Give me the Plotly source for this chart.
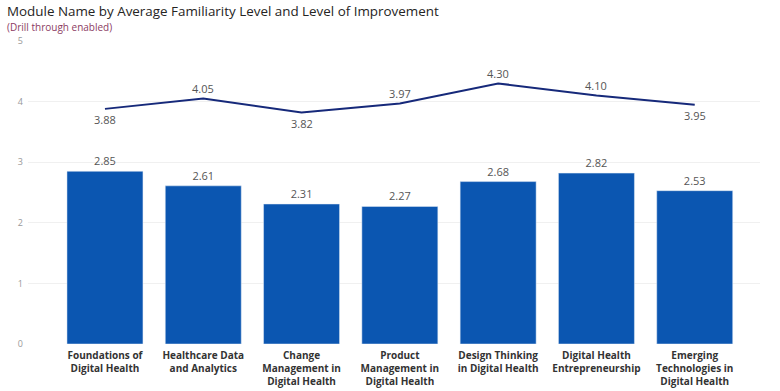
import plotly.graph_objects as go

categories = ["Foundations of<br>Digital Health", "Healthcare Data<br>and Analytics",
              "Change<br>Management in<br>Digital Health", "Product<br>Management in<br>Digital Health",
              "Design Thinking<br>in Digital Health", "Digital Health<br>Entrepreneurship",
              "Emerging<br>Technologies in<br>Digital Health"]
familiarity = [2.85, 2.61, 2.31, 2.27, 2.68, 2.82, 2.53]
improvement = [3.88, 4.05, 3.82, 3.97, 4.30, 4.10, 3.95]
line_label_above = [False, True, False, True, True, True, False]

xs = list(range(len(categories)))

fig = go.Figure()
fig.add_trace(go.Bar(
    x=xs, y=familiarity, width=0.773, marker=dict(color="#0b56b1"),
    text=[f"{v:.2f}" for v in familiarity], textposition="outside",
    textfont=dict(size=11, color="#555555", family="Open Sans"), cliponaxis=False,
))
fig.add_trace(go.Scatter(
    x=xs, y=improvement, mode="lines", line=dict(color="#16297a", width=2),
    cliponaxis=False,
))

L, R, T, B = 28, 20, 41, 47
plot_w = 780 - L - R
plot_h = 391 - T - B

def px_x(x):
    return (x - L) / plot_w

def px_y(y):
    return 1 + (T - y) / plot_h

annotations = [
    dict(text="Module Name by Average Familiarity Level and Level of Improvement",
         x=px_x(5), y=px_y(11), xref="paper", yref="paper", showarrow=False,
         xanchor="left", yanchor="middle",
         font=dict(size=13.4, color="#252423", family="Open Sans")),
    dict(text="(Drill through enabled)", x=px_x(5), y=px_y(27), xref="paper", yref="paper",
         showarrow=False, xanchor="left", yanchor="middle",
         font=dict(size=10, color="#8c3b63", family="Open Sans")),
]
for x, v, above in zip(xs, improvement, line_label_above):
    annotations.append(dict(
        text=f"{v:.2f}", x=x, y=v, xref="x", yref="y", showarrow=False,
        xanchor="center", yanchor="middle", yshift=10 if above else -11,
        font=dict(size=11, color="#555555", family="Open Sans"),
    ))

fig.update_layout(
    width=780, height=391, showlegend=False,
    plot_bgcolor="white", paper_bgcolor="white",
    margin=dict(l=L, r=R, t=T, b=B, autoexpand=False),
    font=dict(family="Open Sans"),
    annotations=annotations,
)

fig.update_xaxes(
    tickvals=xs, ticktext=categories, range=[-0.783, 6.664],
    showgrid=False, zeroline=False, showline=False, ticks="",
    tickfont=dict(size=10, color="#333333", family="Open Sans", weight="bold"),
    tickangle=0, automargin=False, ticklabelstandoff=4,
)
fig.update_yaxes(
    range=[0, 5], tickvals=[0, 1, 2, 3, 4, 5], showgrid=True, gridcolor="#f0f0f0",
    zeroline=False, showline=False, ticks="",
    tickfont=dict(size=9, color="#999999", family="Open Sans"), automargin=False,
    ticklabelstandoff=4,
)

fig.write_html("out.html")
